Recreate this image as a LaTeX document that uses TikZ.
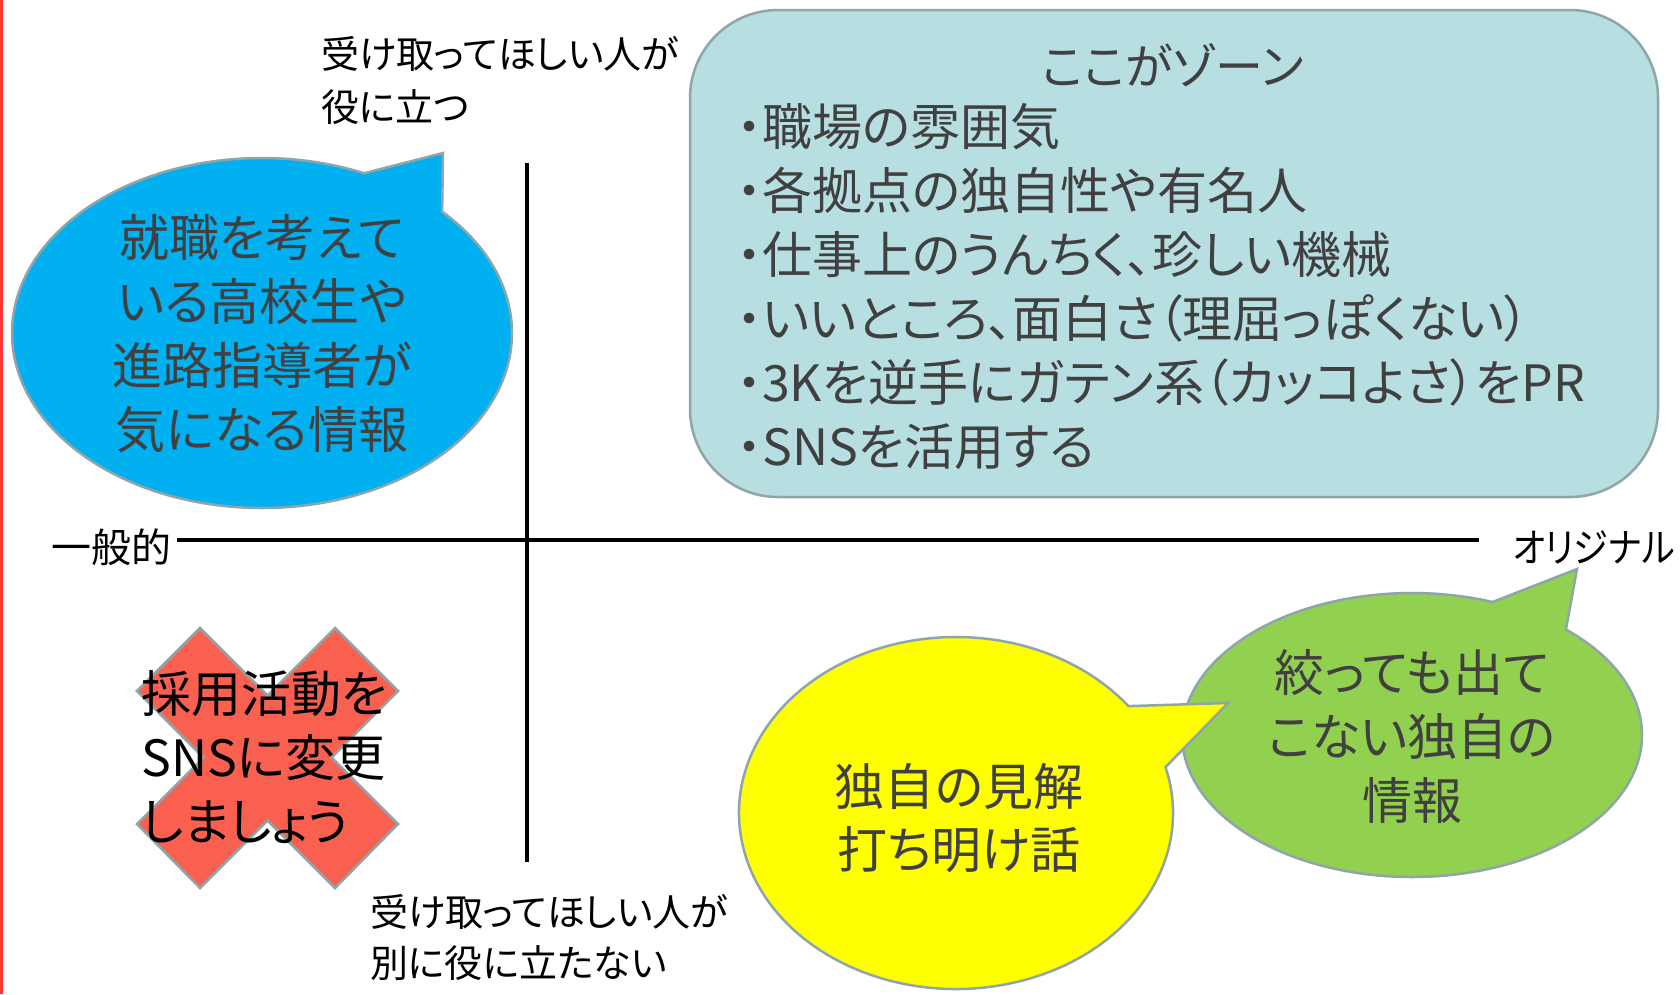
\documentclass[tikz,border=0pt]{standalone}
\usepackage{fontspec}
\setmainfont{Noto Sans CJK JP}[RawFeature=+palt]
\newfontfamily\jp{Noto Sans CJK JP}[RawFeature=+palt]
\newfontfamily\jpnarrow{Noto Sans CJK JP}[RawFeature=+palt, FakeStretch=0.88]
\usetikzlibrary{calc}
\definecolor{bluefill}{HTML}{00B0F0}
\definecolor{tealfill}{HTML}{B7DEE1}
\definecolor{greenfill}{HTML}{92D050}
\definecolor{yellowfill}{HTML}{FFFF00}
\definecolor{crossfill}{HTML}{F9604F}
\definecolor{edgegray}{HTML}{8FA5AA}
\definecolor{textgray}{HTML}{404040}
\definecolor{redline}{HTML}{FF3535}
\tikzset{
  shapeborder/.style={draw=edgegray, line width=2.5pt, line join=miter},
  bubbletext/.style={text=textgray, align=center, inner sep=0pt, font=\jp\fontsize{50}{64}\selectfont},
  listtext/.style={text=textgray, align=left, inner sep=0pt, anchor=west, font=\jp\fontsize{50}{64}\selectfont},
  axislabel/.style={text=black, align=left, inner sep=0pt, anchor=west, font=\jp\fontsize{38}{53}\selectfont},
  axisline/.style={draw=black, line width=3.5pt},
}
\begin{document}
\begin{tikzpicture}[x=1pt,y=-1pt]
\useasboundingbox (0,0) rectangle (1680,994);
\fill[white] (0,0) rectangle (1680,994);
\fill[redline] (0,0) rectangle (2.5,994);

% axes
\coordinate (vtop) at (527,163);
\coordinate (vbot) at (527,862);
\coordinate (hleft) at (177,540);
\coordinate (hright) at (1479,540);
\draw[axisline] (vtop) -- (vbot);
\draw[axisline] (hleft) -- (hright);

% axis labels
\node[axislabel] (toplab) at (321,80.5) {受け取ってほしい人が\\役に立つ};
\node[axislabel, font=\jp\fontsize{38}{51}\selectfont] (botlab) at (370,937.5) {受け取ってほしい人が\\別に役に立たない};
\node[axislabel, font=\jp\fontsize{40}{50}\selectfont] (leftlab) at (51,547) {一般的};
\node[axislabel, anchor=east, font=\jpnarrow\fontsize{40}{50}\selectfont] (rightlab) at (1675,547) {オリジナル};

% blue speech bubble
\coordinate (bc) at (262,333);
\coordinate (btip) at (443,153);
\draw[shapeborder, fill=bluefill] ($(bc)+(-65.9:250 and 175)$) -- (btip) -- ($(bc)+(-43.9:250 and 175)$)
  arc[start angle=-43.9, end angle=294.1, x radius=250, y radius=175] -- cycle;
\node[bubbletext] (bluetext) at (262,334) {就職を考えて\\いる高校生や\\進路指導者が\\気になる情報};

% teal zone box
\draw[shapeborder, fill=tealfill, rounded corners=88pt] (690,10) rectangle (1658,497);
\node[bubbletext, font=\jp\fontsize{48}{64}\selectfont] (zonetitle) at (1173,65) {ここがゾーン};
\node[listtext] (zonelist) at (737,287) {・職場の雰囲気\\・各拠点の独自性や有名人\\・仕事上のうんちく、珍しい機械\\・いいところ、面白さ（理屈っぽくない）\\・3Kを逆手にガテン系（カッコよさ）をPR\\・SNSを活用する};

% red cross
\draw[shapeborder, fill=crossfill]
  (200,628) -- (267.5,695.5) -- (335,628) -- (398,691) -- (331.5,757.5) -- (398,824)
  -- (335,888) -- (267.5,820.5) -- (200,888) -- (137,824) -- (203.5,757.5) -- (137,691) -- cycle;
\node[listtext, text=black] (crosstext) at (141,757) {採用活動を\\SNSに変更\\しましょう};

% green speech bubble
\coordinate (gc) at (1412,735);
\coordinate (gtip) at (1577,569);
\draw[shapeborder, fill=greenfill] ($(gc)+(-69.5:230 and 142)$) -- (gtip) -- ($(gc)+(-48:230 and 142)$)
  arc[start angle=-48, end angle=290.5, x radius=230, y radius=142] -- cycle;
\node[bubbletext] (greentext) at (1412,737) {絞っても出て\\こない独自の\\情報};

% yellow speech bubble
\coordinate (yc) at (956,813);
\coordinate (ytip) at (1228,703);
\draw[shapeborder, fill=yellowfill] ($(yc)+(-37.4:217 and 176)$) -- (ytip) -- ($(yc)+(-15.1:217 and 176)$)
  arc[start angle=-15.1, end angle=322.6, x radius=217, y radius=176] -- cycle;
\node[bubbletext, font=\jp\fontsize{50}{63}\selectfont] (yellowtext) at (959,818) {独自の見解\\打ち明け話};
\end{tikzpicture}
\end{document}
